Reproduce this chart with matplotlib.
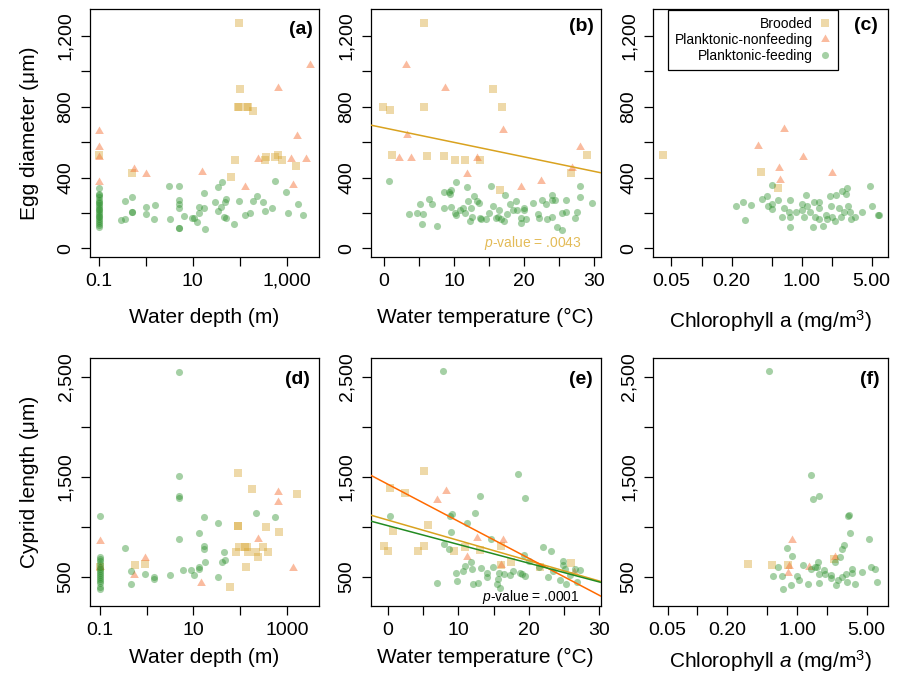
import matplotlib
matplotlib.use('Agg')
import matplotlib.pyplot as plt
from matplotlib.lines import Line2D

plt.rcParams['font.family'] = ['Liberation Sans', 'DejaVu Sans']
plt.rcParams['mathtext.fontset'] = 'custom'
plt.rcParams['mathtext.rm'] = 'Liberation Sans'
plt.rcParams['mathtext.it'] = 'Liberation Sans:italic'
plt.rcParams['mathtext.bf'] = 'Liberation Sans:bold'

# ---------------- data ----------------
group_names = ["Brooded", "Planktonic-nonfeeding", "Planktonic-feeding"]

# (a) egg diameter vs water depth
a_brood_x = [96, 101, 93, 99, 140, 152, 188, 0.1, 0.5, 66, 80, 345, 363, 560, 660, 780, 1590]
a_brood_y = [1275, 900, 800, 800, 800, 800, 778, 527, 424, 403, 497, 497, 518, 518, 525, 500, 467]
a_nonf_x = [0.1, 0.1, 0.1, 0.1, 0.56, 1.0, 15.4, 131, 249, 653, 1236, 1387, 1633, 2582, 3139]
a_nonf_y = [663, 575, 515, 377, 448, 418, 433, 345, 503, 908, 503, 358, 637, 503, 1034]
a_feed_x = [0.1, 0.1, 0.1, 0.1, 0.1, 0.1, 0.1, 0.1, 0.1, 0.1,
            0.1, 0.1, 0.1, 0.1, 0.1, 0.1, 0.1, 0.1, 0.1, 0.1,
            0.29, 0.36, 0.36, 0.5, 0.5, 0.5, 1.0, 1.0, 1.49, 1.53,
            3.1, 3.26, 5.0, 5.0, 5.0, 5.0, 5.0, 5.0, 6.4, 9.4,
            10.7, 12.3, 13.8, 13.5, 17.6, 17.6, 18.2, 29.7, 34.4, 34.4,
            41, 40, 46, 50, 49, 51, 75, 95, 131, 166,
            188, 229, 308, 345, 480, 564, 970, 1050, 1714, 2264]
a_feed_y = [339, 310, 300, 290, 275, 265, 255, 245, 235, 225,
            215, 205, 195, 185, 175, 165, 155, 145, 135, 122,
            160, 164, 269, 292, 207, 207, 232, 196, 164, 245,
            352, 164, 352, 273, 254, 226, 117, 117, 183, 170,
            170, 151, 202, 232, 311, 226, 111, 264, 213, 349,
            375, 232, 179, 170, 264, 281, 136, 268, 188, 198,
            269, 296, 264, 213, 226, 382, 320, 198, 251, 188]

# (b) egg diameter vs water temperature
b_brood_x = [5.7, -0.2, 0.8, 1.2, 5.7, 6.2, 8.5, 10.1, 11.5, 13.7, 15.5, 16.8, 16.6, 26.6, 29.0]
b_brood_y = [1275, 799, 780, 527, 799, 520, 520, 497, 497, 501, 899, 799, 333, 428, 527]
b_nonf_x = [3.1, 3.3, 2.1, 3.8, 8.7, 11.8, 13.3, 16.9, 19.5, 22.4, 26.8, 28.0]
b_nonf_y = [1034, 641, 509, 509, 908, 422, 509, 667, 349, 381, 452, 575]
b_feed_x = [0.7, 3.6, 4.7, 5.2, 5.4, 5.5, 6.4, 6.9, 7.5, 8.5,
            8.5, 9.2, 9.4, 9.6, 9.6, 10.1, 10.2, 10.3, 10.8, 11.3,
            11.5, 11.8, 12.0, 12.2, 12.4, 12.6, 12.9, 13.2, 13.5, 13.7,
            13.8, 14.6, 14.9, 15.3, 15.6, 16.0, 16.2, 16.4, 16.7, 17.1,
            17.2, 17.6, 17.9, 18.4, 18.8, 19.0, 19.5, 19.5, 20.0, 20.0,
            20.3, 21.2, 21.9, 22.1, 22.6, 23.1, 23.3, 23.9, 23.9, 24.0,
            24.4, 24.6, 25.4, 25.4, 25.9, 26.0, 27.2, 27.5, 28.0, 27.95,
            29.7]
b_feed_y = [380, 192, 200, 249, 136, 192, 279, 249, 126, 320,
            230, 320, 305, 333, 234, 200, 188, 377, 215, 230,
            200, 349, 268, 154, 230, 177, 296, 268, 258, 173,
            164, 164, 202, 350, 241, 173, 177, 220, 164, 154,
            301, 192, 249, 215, 268, 217, 173, 145, 230, 217,
            164, 258, 192, 173, 271, 252, 164, 177, 301, 275,
            271, 121, 107, 203, 207, 275, 173, 207, 350, 290,
            256]
b_fit_brood = (681, -8.2)   # intercept, slope
b_pvalue = ".0043"

# (c) egg diameter vs chlorophyll a
c_brood_x = [0.041, 0.39, 0.58]
c_brood_y = [530, 430, 340]
c_nonf_x = [0.37, 0.66, 0.59, 0.61, 1.02, 2.0]
c_nonf_y = [581, 672, 455, 387, 519, 426]
c_feed_x = [0.22, 0.26, 0.27, 0.31, 0.40, 0.45, 0.46, 0.51, 0.51, 0.51,
            0.575, 0.64, 0.66, 0.75, 0.76, 0.76, 0.76, 0.88, 1.0, 1.0,
            1.05, 1.1, 1.14, 1.21, 1.32, 1.31, 1.36, 1.48, 1.48, 1.49,
            1.63, 1.74, 1.78, 1.92, 1.96, 2.03, 2.2, 2.17, 2.34, 2.45,
            2.53, 2.67, 2.77, 2.86, 2.92, 3.04, 3.08, 3.4, 3.97, 4.82,
            5.0, 5.83, 5.97]
c_feed_y = [238, 260, 162, 247, 279, 294, 241, 358, 251, 223,
            275, 175, 226, 204, 275, 175, 123, 207, 253, 219,
            175, 302, 238, 204, 260, 119, 175, 260, 226, 166,
            125, 189, 166, 294, 238, 175, 302, 157, 226, 175,
            323, 204, 308, 340, 238, 204, 166, 175, 204, 355,
            238, 189, 189]

# (d) cyprid length vs water depth
d_brood_x = [91, 182, 1630, 89, 91, 351, 677, 83, 95, 127, 140, 146, 221, 246, 317, 400, 136, 62, 0.56, 0.94, 0.1]
d_brood_y = [1540, 1373, 1323, 1010, 1005, 993, 943, 750, 793, 800, 793, 750, 750, 700, 793, 750, 597, 397, 617, 627, 600]
d_nonf_x = [0.1, 0.1, 0.53, 0.94, 14.8, 245, 645, 660, 1345]
d_nonf_y = [860, 593, 517, 690, 433, 873, 1343, 1250, 590]
d_feed_x = [0.1, 0.1, 0.1, 0.1, 0.1, 0.1, 0.1, 0.1, 0.1, 0.1,
            0.1, 0.1, 0.1, 0.1, 0.1, 0.1,
            0.35, 0.47, 0.47, 0.94, 1.42, 1.42, 3.1, 4.8, 4.8, 4.8,
            4.8, 4.8, 6.1, 9.1, 10.5, 12.9, 13.5, 12.9, 16.9, 16.9,
            16.9, 17.6, 33, 33, 40, 45, 47, 221, 546]
d_feed_y = [1110, 700, 680, 660, 630, 600, 580, 560, 540, 520,
            500, 480, 460, 440, 400, 375,
            790, 557, 423, 530, 500, 477, 517, 1510, 1307, 1283,
            873, 2550, 567, 567, 517, 573, 593, 933, 1100, 807,
            773, 650, 1033, 500, 643, 750, 667, 1133, 1100]

# (e) cyprid length vs water temperature
e_brood_x = [5.1, 0.33, 2.46, 5.7, 0.7, -0.6, -0.05, 4.26, 5.1, 9.4, 10.9, 13.1, 16.0, 16.0, 17.5, 21.6, 26.0]
e_brood_y = [1557, 1383, 1333, 1017, 960, 807, 760, 760, 810, 760, 800, 767, 807, 613, 643, 600, 633]
e_nonf_x = [8.2, 7.0, 12.7, 16.3, 11.2, 16.1, 26.4]
e_nonf_y = [1357, 1267, 890, 867, 700, 617, 550]
e_feed_x = [7.8, 18.5, 19.5, 13.0, 12.4, 9.1, 8.85, 11.2, 0.33, 8.9,
            14.6, 8.0, 8.6, 22.0, 23.1, 19.3, 11.8, 10.9, 9.6, 9.8,
            7.0, 10.7, 11.9, 13.2, 12.1, 12.8, 14.1, 14.1, 14.9, 15.7,
            15.6, 15.9, 15.5, 16.5, 17.3, 17.7, 18.8, 19.0, 19.5, 20.0,
            21.4, 22.7, 23.4, 24.4, 24.8, 24.9, 25.2, 25.3, 25.8, 26.6,
            27.3, 26.9]
e_feed_y = [2557, 1523, 1283, 1310, 1140, 1123, 1107, 1040, 1110, 943,
            873, 823, 777, 800, 760, 717, 650, 607, 540, 460,
            440, 560, 577, 590, 423, 433, 540, 500, 600, 533,
            473, 390, 427, 523, 517, 560, 533, 527, 510, 660,
            600, 493, 560, 467, 660, 617, 573, 423, 517, 580,
            567, 443]
e_fit_brood = (1066, -20.3)
e_fit_nonf = (1424, -37.0)
e_fit_feed = (1010, -18.75)
e_pvalue = ".0001"

# (f) cyprid length vs chlorophyll a
f_brood_x = [0.32, 0.56, 0.81, 2.36]
f_brood_y = [630, 620, 613, 680]
f_nonf_x = [0.90, 0.83, 0.82, 1.32, 2.4]
f_nonf_y = [867, 607, 533, 600, 697]
f_feed_x = [0.52, 1.38, 1.46, 1.68, 3.27, 3.34, 3.4, 2.95, 2.86, 2.73,
            2.4, 1.64, 0.8, 0.9, 0.65, 0.58, 0.71, 0.72, 0.87, 1.0,
            1.04, 1.16, 1.3, 1.37, 1.52, 1.58, 1.67, 1.67, 1.86, 1.9,
            2.18, 2.17, 2.45, 2.59, 2.82, 3.1, 3.14, 3.53, 3.58, 3.85,
            4.49, 5.24, 5.49, 6.07, 6.32]
f_feed_y = [2553, 1517, 1277, 1307, 1107, 1113, 933, 817, 773, 700,
            647, 650, 790, 703, 593, 503, 507, 380, 417, 503,
            467, 617, 427, 573, 597, 600, 523, 433, 567, 523,
            513, 490, 413, 467, 500, 527, 450, 580, 533, 430,
            547, 873, 600, 573, 450]

# ---------------- style ----------------
col_brood = '#D6A22A'
col_nonf = '#F56A2A'
col_feed = '#2A8F2A'
line_brood = '#D9A21F'
line_nonf = '#FF6A00'
line_feed = '#228B22'
tri = [(-1, -0.577), (1, -0.577), (0, 1.155)]
S_SQ, S_TRI, S_CIR = 27, 52, 26
A_SQ, A_TRI, A_CIR = 0.4, 0.45, 0.42

fig = plt.figure(figsize=(9.04, 6.75), dpi=100)
W, H = 904, 675
cols = [(90, 319), (370.7, 600.7), (653.3, 888.3)]
rows = [(9, 257), (358.3, 606)]


def make_ax(col, row):
    x0, x1 = cols[col]
    y0, y1 = rows[row]
    return fig.add_axes([x0 / W, 1 - y1 / H, (x1 - x0) / W, (y1 - y0) / H])


def scatter3(ax, bx, by, nx, ny, fx, fy):
    ax.scatter(bx, by, marker='s', s=S_SQ, color=col_brood, alpha=A_SQ, linewidths=0, zorder=2)
    ax.scatter(nx, ny, marker=tri, s=S_TRI, color=col_nonf, alpha=A_TRI, linewidths=0, zorder=2)
    ax.scatter(fx, fy, marker='o', s=S_CIR, color=col_feed, alpha=A_CIR, linewidths=0, zorder=3)


def style(ax):
    for s in ax.spines.values():
        s.set_linewidth(0.9)
    ax.tick_params(direction='out', length=6.8, width=0.9, labelsize=14, pad=4.5)
    ax.minorticks_off()


def yaxis_egg(ax):
    ax.set_ylim(-48, 1352)
    ax.set_yticks([0, 200, 400, 600, 800, 1000, 1200])
    ax.set_yticklabels(['0', '', '400', '', '800', '', '1,200'], rotation=90, va='center')


def yaxis_cyp(ax):
    ax.set_ylim(207, 2684)
    ax.set_yticks([500, 1000, 1500, 2000, 2500])
    ax.set_yticklabels(['500', '', '1,500', '', '2,500'], rotation=90, va='center')


def panel_letter(ax, s, x, y):
    ax.text(x, y, s, transform=ax.transAxes, ha='right', va='center',
            fontsize=14, fontweight='bold')


# (a)
ax = make_ax(0, 0)
scatter3(ax, a_brood_x, a_brood_y, a_nonf_x, a_nonf_y, a_feed_x, a_feed_y)
ax.set_xscale('log')
ax.set_xlim(0.0645, 4900)
style(ax)
ax.set_xticks([0.1, 1, 10, 100, 1000])
ax.set_xticklabels(['0.1', '', '10', '', '1,000'])
ax.minorticks_off()
yaxis_egg(ax)
ax.set_xlabel('Water depth (m)', fontsize=15, labelpad=13)
ax.set_ylabel('Egg diameter (μm)', fontsize=15, labelpad=13)
panel_letter(ax, '(a)', 0.974, 0.919)

# (b)
ax = make_ax(1, 0)
scatter3(ax, b_brood_x, b_brood_y, b_nonf_x, b_nonf_y, b_feed_x, b_feed_y)
ax.set_xlim(-1.9, 30.9)
style(ax)
ax.set_xticks([0, 5, 10, 15, 20, 25, 30])
ax.set_xticklabels(['0', '', '10', '', '20', '', '30'])
yaxis_egg(ax)
ax.axline((0, b_fit_brood[0]), slope=b_fit_brood[1], color=line_brood, lw=1.1, zorder=4)
ax.text(0.917, 0.055, r'$\mathit{p}$-value = ' + b_pvalue, transform=ax.transAxes,
        ha='right', va='center', fontsize=10, color='#DAA520', alpha=0.75)
ax.set_xlabel('Water temperature (°C)', fontsize=15, labelpad=13)
panel_letter(ax, '(b)', 0.972, 0.931)

# (c)
ax = make_ax(2, 0)
scatter3(ax, c_brood_x, c_brood_y, c_nonf_x, c_nonf_y, c_feed_x, c_feed_y)
ax.set_xscale('log')
ax.set_xlim(0.033, 7.33)
style(ax)
ax.set_xticks([0.05, 0.1, 0.2, 0.5, 1, 2, 5])
ax.set_xticklabels(['0.05', '', '0.20', '', '1.00', '', '5.00'])
ax.minorticks_off()
yaxis_egg(ax)
ax.set_xlabel('Chlorophyll a (mg/m$^3$)', fontsize=15, labelpad=13)
panel_letter(ax, '(c)', 0.957, 0.935)
handles = [
    Line2D([], [], ls='none', marker='s', ms=S_SQ ** 0.5, color=col_brood, alpha=A_SQ, mew=0),
    Line2D([], [], ls='none', marker=tri, ms=S_TRI ** 0.5, color=col_nonf, alpha=A_TRI, mew=0),
    Line2D([], [], ls='none', marker='o', ms=S_CIR ** 0.5, color=col_feed, alpha=A_CIR, mew=0),
]
leg = ax.legend(handles, group_names, loc='upper left', bbox_to_anchor=(0.061, 0.996),
                borderaxespad=0, markerfirst=False, fontsize=10, frameon=True,
                fancybox=False, edgecolor='black', framealpha=1, handlelength=0.8,
                handletextpad=0.5, labelspacing=0.15, borderpad=0.5)
leg.get_frame().set_linewidth(0.9)

# (d)
ax = make_ax(0, 1)
scatter3(ax, d_brood_x, d_brood_y, d_nonf_x, d_nonf_y, d_feed_x, d_feed_y)
ax.set_xscale('log')
ax.set_xlim(0.061, 4900)
style(ax)
ax.set_xticks([0.1, 1, 10, 100, 1000])
ax.set_xticklabels(['0.1', '', '10', '', '1000'])
ax.minorticks_off()
yaxis_cyp(ax)
ax.set_xlabel('Water depth (m)', fontsize=15, labelpad=7)
ax.set_ylabel('Cyprid length (μm)', fontsize=15, labelpad=13)
panel_letter(ax, '(d)', 0.961, 0.915)

# (e)
ax = make_ax(1, 1)
scatter3(ax, e_brood_x, e_brood_y, e_nonf_x, e_nonf_y, e_feed_x, e_feed_y)
ax.set_xlim(-2.45, 30.2)
style(ax)
ax.set_xticks([0, 5, 10, 15, 20, 25, 30])
ax.set_xticklabels(['0', '', '10', '', '20', '', '30'])
yaxis_cyp(ax)
ax.axline((0, e_fit_brood[0]), slope=e_fit_brood[1], color=line_brood, lw=1.1, zorder=4)
ax.axline((0, e_fit_nonf[0]), slope=e_fit_nonf[1], color=line_nonf, lw=1.1, zorder=4)
ax.axline((0, e_fit_feed[0]), slope=e_fit_feed[1], color=line_feed, lw=1.1, zorder=4)
ax.text(0.907, 0.0375, r'$\mathit{p}$-value = ' + e_pvalue, transform=ax.transAxes,
        ha='right', va='center', fontsize=10, color='black')
ax.set_xlabel('Water temperature (°C)', fontsize=15, labelpad=7)
panel_letter(ax, '(e)', 0.967, 0.915)

# (f)
ax = make_ax(2, 1)
scatter3(ax, f_brood_x, f_brood_y, f_nonf_x, f_nonf_y, f_feed_x, f_feed_y)
ax.set_xscale('log')
ax.set_xlim(0.036, 8.25)
style(ax)
ax.set_xticks([0.05, 0.1, 0.2, 0.5, 1, 2, 5])
ax.set_xticklabels(['0.05', '', '0.20', '', '1.00', '', '5.00'])
ax.minorticks_off()
yaxis_cyp(ax)
ax.set_xlabel(r'Chlorophyll $\mathit{a}$ (mg/m$^3$)', fontsize=15, labelpad=7)
panel_letter(ax, '(f)', 0.965, 0.915)

fig.savefig('out.png', dpi=100)
